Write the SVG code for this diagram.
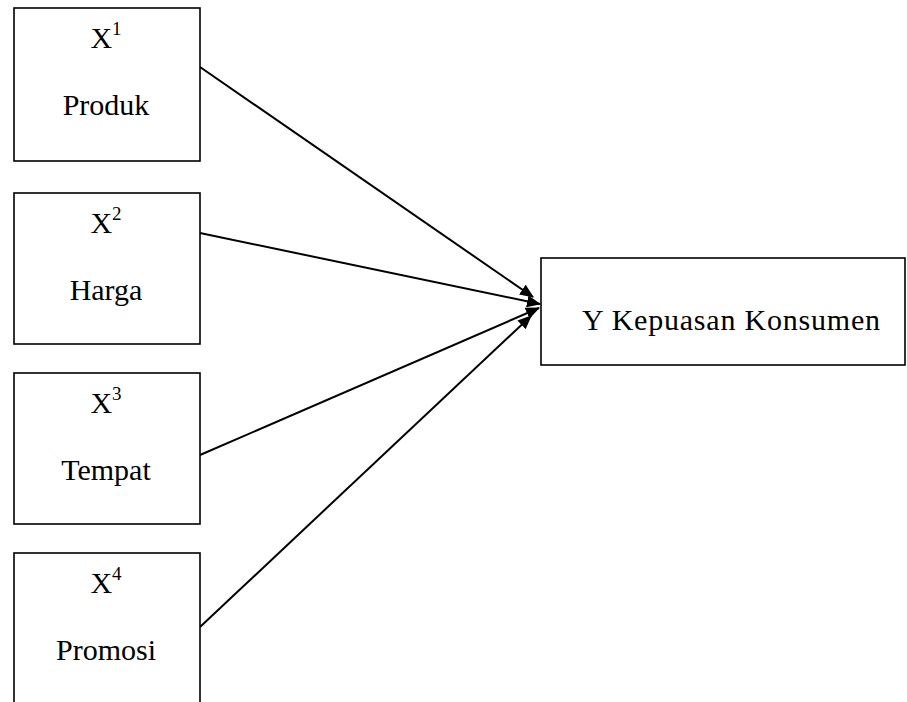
<svg xmlns="http://www.w3.org/2000/svg" width="907" height="702" viewBox="0 0 907 702">
<style>
.box{fill:#fff;stroke:#000;stroke-width:1.6}
.t{font-family:"Liberation Serif","Times New Roman",serif;font-size:30px;fill:#000;text-anchor:middle}
.sup{font-size:19px}
.c{stroke:#000;stroke-width:2;fill:none;marker-end:url(#ah)}
</style>
<defs>
<marker id="ah" markerWidth="14" markerHeight="12" refX="13" refY="6" orient="auto" markerUnits="userSpaceOnUse">
<path d="M0,0 L14,6 L0,12 Z" fill="#000"/>
</marker>
</defs>
<rect width="907" height="702" fill="#fff"/>
<g id="connectors">
<line class="c" x1="200" y1="67" x2="533" y2="297"/>
<line class="c" x1="200" y1="233" x2="540" y2="304"/>
<line class="c" x1="200" y1="455" x2="539" y2="308"/>
<line class="c" x1="200" y1="627" x2="531" y2="316"/>
</g>
<g id="x1">
<rect class="box" x="14" y="8" width="186" height="153"/>
<text class="t" x="106" y="48">X<tspan class="sup" dy="-13">1</tspan></text>
<text class="t" x="106" y="115">Produk</text>
</g>
<g id="x2">
<rect class="box" x="14" y="193" width="186" height="151"/>
<text class="t" x="106" y="233">X<tspan class="sup" dy="-13">2</tspan></text>
<text class="t" x="106" y="300">Harga</text>
</g>
<g id="x3">
<rect class="box" x="14" y="373" width="186" height="151"/>
<text class="t" x="106" y="413">X<tspan class="sup" dy="-13">3</tspan></text>
<text class="t" x="106" y="480">Tempat</text>
</g>
<g id="x4">
<rect class="box" x="14" y="553" width="186" height="160"/>
<text class="t" x="106" y="593">X<tspan class="sup" dy="-13">4</tspan></text>
<text class="t" x="106" y="660">Promosi</text>
</g>
<g id="y">
<rect class="box" x="541" y="258" width="364" height="107"/>
<text class="t" x="731" y="330" textLength="298" lengthAdjust="spacing">Y Kepuasan Konsumen</text>
</g>
</svg>
